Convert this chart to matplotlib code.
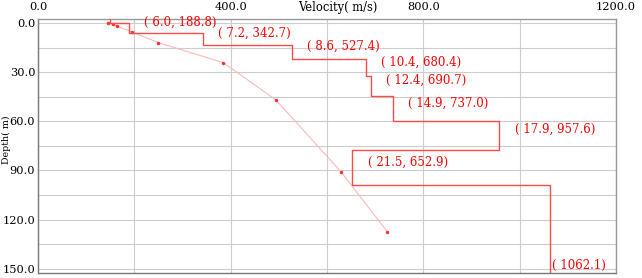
import numpy as np
import matplotlib.pyplot as plt

# layered model: thickness (m) and shear velocity (m/s), last one is the half-space
thick = [6.0, 7.2, 8.6, 10.4, 12.4, 14.9, 17.9, 21.5]
vel = [188.8, 342.7, 527.4, 680.4, 690.7, 737.0, 957.6, 652.9, 1062.1]
surface_v = 150.0

# dispersion points (pseudo depth vs phase velocity)
disp_v = [145, 155, 163, 196, 250, 385, 494, 629, 725]
disp_d = [0.0, 0.5, 1.7, 5.4, 11.9, 24.1, 46.9, 90.8, 127.4]

xlim = (0, 1200)
ylim = (152.7, -2.6)

plt.rcParams['font.family'] = ['DejaVu Serif']
fig = plt.figure(figsize=(6.42, 2.78), dpi=100)
ax = fig.add_axes([38/642, 1 - 273/278, 578/642, 254/278])

tops = np.concatenate([[0], np.cumsum(thick)])
bottoms = np.concatenate([np.cumsum(thick), [ylim[0]]])

# step profile
px = [surface_v, surface_v]
py = [ylim[1], 0]
for v, t, b in zip(vel, tops, bottoms):
    px += [v, v]
    py += [t, b]
ax.plot(px, py, color='#ff4a4a', lw=1.0, zorder=3)

ax.plot(disp_v, disp_d, color='#ffb8b8', lw=0.8, marker='.', ms=3,
        mfc='#ff3030', mec='#ff3030', zorder=2)

# labels
for i, v in enumerate(vel):
    if i < len(thick):
        mid = (tops[i] + bottoms[i]) / 2
        ax.annotate('( %.1f, %.1f)' % (thick[i], v), (v, mid),
                    xytext=(11, 4), textcoords='offset points',
                    color='red', fontsize=8.5, va='center', ha='left')
    else:
        ax.annotate('( %.1f)' % v, (v, 148),
                    xytext=(2, 0), textcoords='offset points',
                    color='red', fontsize=8.5, va='center', ha='left')

ax.set_xlim(*xlim)
ax.set_ylim(*ylim)
ax.set_xticks(np.arange(0, 1201, 400))
ax.set_xticks(np.arange(0, 1201, 200), minor=True)
ax.set_yticks(np.arange(0, 151, 30))
ax.set_yticks(np.arange(0, 151, 15), minor=True)
ax.set_xticklabels(['%.1f' % x for x in np.arange(0, 1201, 400)])
ax.set_yticklabels(['%.1f' % y for y in np.arange(0, 151, 30)])
ax.get_xticklabels()[0].set_ha('left')
ax.xaxis.tick_top()
ax.tick_params(which='both', length=0, labelsize=8.2)
ax.tick_params(axis='x', pad=5)
ax.tick_params(axis='y', pad=2)
ax.grid(which='both', color='#cccccc', lw=0.8)
ax.set_axisbelow(True)
for s in ax.spines.values():
    s.set_color('#999999')
    s.set_linewidth(1.0)
ax.spines['left'].set_color('#777777')
ax.spines['bottom'].set_color('#777777')

fig.text(338/642, 1 - 7/278, 'Velocity( m/s)', ha='center', va='center', fontsize=8.3)
fig.text(6/642, 1 - 140/278, 'Depth( m)', ha='center', va='center', rotation=90, fontsize=6.8)

fig.savefig('out.png', dpi=100)
